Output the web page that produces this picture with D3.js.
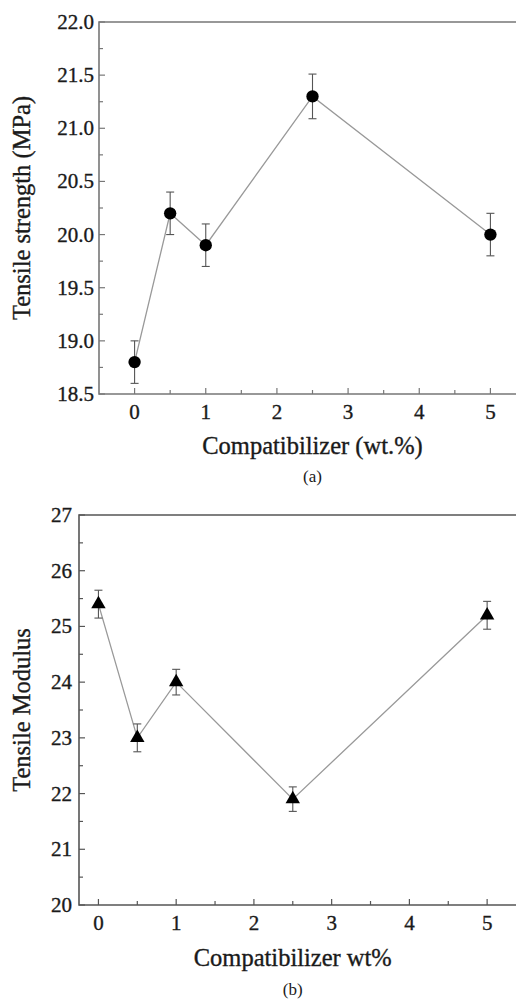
<!DOCTYPE html>
<html>
<head>
<meta charset="utf-8">
<script src="https://cdn.jsdelivr.net/npm/d3@7"></script>
</head>
<body style="margin:0;background:#fff">
<div id="chart"></div>
<script>
// panel (a) tensile strength
var xA = [0, 0.5, 1, 2.5, 5];
var strength = [18.8, 20.2, 19.9, 21.3, 20.0];
var strengthErr = [0.2, 0.2, 0.2, 0.21, 0.2];
var yTicksA = [18.5, 19.0, 19.5, 20.0, 20.5, 21.0, 21.5, 22.0];

// panel (b) tensile modulus
var xB = [0, 0.5, 1, 2.5, 5];
var modulus = [25.4, 23.0, 24.0, 21.9, 25.2];
var modulusErr = [0.25, 0.25, 0.23, 0.22, 0.25];
var yTicksB = [20, 21, 22, 23, 24, 25, 26, 27];

var xTicks = [0, 1, 2, 3, 4, 5];

var FONT = '"Liberation Serif", "Times New Roman", serif';
var W = 516, H = 999;
var svg = d3.select("#chart").append("svg")
  .attr("width", W).attr("height", H);

function label(g, size) {
  return g.append("text")
    .style("font-family", FONT)
    .attr("font-size", size)
    .attr("fill", "#1a1a1a")
    .attr("stroke", "#1a1a1a")
    .attr("stroke-width", 0.35);
}

function panel(o) {
  var x = d3.scaleLinear().domain(o.xDomain).range([o.left, o.right]);
  var y = d3.scaleLinear().domain(o.yDomain).range([o.bottom, o.top]);
  var g = svg.append("g");

  // frame (right side runs past the edge of the picture)
  g.append("path")
    .attr("fill", "none").attr("stroke", o.frameColor).attr("stroke-width", 1.6)
    .attr("d", `M${o.right},${o.top}H${o.left}V${o.bottom}H${o.right}`);

  // x ticks, major and minor, pointing inward
  var xMinor = d3.range(0, o.xDomain[1], 0.5);
  g.selectAll(null).data(xMinor).enter().append("line")
    .attr("stroke", o.frameColor).attr("stroke-width", 1.2)
    .attr("x1", d => x(d)).attr("x2", d => x(d))
    .attr("y1", o.bottom).attr("y2", d => o.bottom - (Number.isInteger(d) ? 6 : 4));
  xTicks.forEach(function(d) {
    label(g, 21).attr("x", x(d)).attr("y", o.bottom + 25)
      .attr("text-anchor", "middle").text(d);
  });

  // y ticks
  var step = o.yTicks[1] - o.yTicks[0];
  var yMinor = d3.range(o.yDomain[0], o.yDomain[1] + 1e-9, step / 2);
  g.selectAll(null).data(yMinor).enter().append("line")
    .attr("stroke", o.frameColor).attr("stroke-width", 1.2)
    .attr("x1", o.left).attr("x2", (d, i) => o.left + (i % 2 === 0 ? 6 : 4))
    .attr("y1", d => y(d)).attr("y2", d => y(d));
  o.yTicks.forEach(function(d) {
    label(g, 21).attr("x", o.left - o.labelGap).attr("y", y(d) + 7)
      .attr("text-anchor", "end").text(o.fmt(d));
  });

  // axis titles
  label(g, 24.5).attr("x", x(2.5)).attr("y", o.bottom + o.titleDy)
    .attr("text-anchor", "middle").text(o.xTitle);
  label(g, 24.5)
    .attr("transform", `translate(${o.yTitleX},${(o.top + o.bottom) / 2}) rotate(-90)`)
    .attr("text-anchor", "middle").text(o.yTitle);
  label(g, 17).attr("stroke-width", 0)
    .attr("x", x(2.5)).attr("y", o.bottom + o.captionDy)
    .attr("text-anchor", "middle").text(o.caption);

  // connecting line
  var pts = o.xs.map((d, i) => [d, o.ys[i], o.es[i]]);
  g.append("path")
    .attr("fill", "none").attr("stroke", "#999").attr("stroke-width", 1.3)
    .attr("d", d3.line().x(d => x(d[0])).y(d => y(d[1]))(pts));

  // error bars
  var eb = g.selectAll(null).data(pts).enter().append("g")
    .attr("stroke", "#555").attr("stroke-width", 1.1);
  eb.append("line")
    .attr("x1", d => x(d[0])).attr("x2", d => x(d[0]))
    .attr("y1", d => y(d[1] - d[2])).attr("y2", d => y(d[1] + d[2]));
  [-1, 1].forEach(function(s) {
    eb.append("line")
      .attr("x1", d => x(d[0]) - 4).attr("x2", d => x(d[0]) + 4)
      .attr("y1", d => y(d[1] + s * d[2])).attr("y2", d => y(d[1] + s * d[2]));
  });

  // markers
  g.selectAll(null).data(pts).enter().append("path")
    .attr("transform", d => `translate(${x(d[0])},${y(d[1])})`)
    .attr("d", d3.symbol().type(o.symbol).size(o.symbolSize))
    .attr("fill", "#000");
}

panel({
  xs: xA, ys: strength, es: strengthErr, yTicks: yTicksA,
  xDomain: [-0.5, 5.5], yDomain: [18.5, 22.0],
  left: 99, right: 526, top: 22, bottom: 394, frameColor: "#777",
  labelGap: 5, fmt: d3.format(".1f"),
  xTitle: "Compatibilizer (wt.%)", yTitle: "Tensile strength (MPa)",
  caption: "(a)", titleDy: 60, captionDy: 88, yTitleX: 30,
  symbol: d3.symbolCircle, symbolSize: 120
});

panel({
  xs: xB, ys: modulus, es: modulusErr, yTicks: yTicksB,
  xDomain: [-0.25, 5.5], yDomain: [20, 27],
  left: 79, right: 526, top: 515, bottom: 905, frameColor: "#555",
  labelGap: 7, fmt: d3.format("d"),
  xTitle: "Compatibilizer wt%", yTitle: "Tensile Modulus",
  caption: "(b)", titleDy: 61, captionDy: 90, yTitleX: 30,
  symbol: d3.symbolTriangle, symbolSize: 90
});
</script>
</body>
</html>
